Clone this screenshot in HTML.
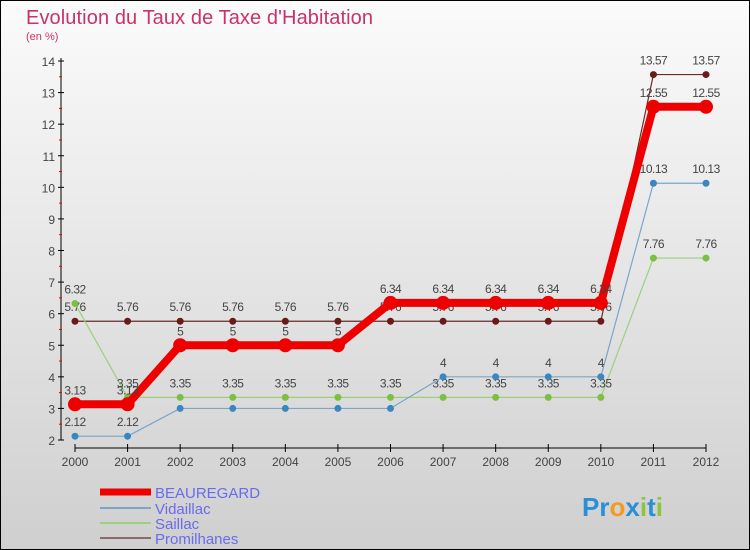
<!DOCTYPE html>
<html><head><meta charset="utf-8"><style>
body{margin:0;width:750px;height:550px;overflow:hidden}
svg{display:block;font-family:"Liberation Sans",sans-serif}
</style></head><body>
<svg id="c" width="750" height="550">
<defs><linearGradient id="bg" x1="0" y1="0" x2="0" y2="1"><stop offset="0" stop-color="#fbfbfb"/><stop offset="1" stop-color="#cfcfcf"/></linearGradient></defs>
<rect x="0.5" y="0.5" width="749" height="549" fill="url(#bg)" stroke="#000"/>
<text x="26" y="24" font-size="20" fill="#c8336b" textLength="347">Evolution du Taux de Taxe d'Habitation</text>
<text x="26" y="40" font-size="11" fill="#c8336b">(en %)</text>
<g id="axes"></g><g id="plot"></g>
<g>
<line x1="100" y1="492" x2="151" y2="492" stroke="#e00" stroke-width="7"/>
<text x="155" y="498" font-size="15" fill="#6a6aee">BEAUREGARD</text>
<line x1="100" y1="508" x2="151" y2="508" stroke="#7aa6c8" stroke-width="2"/>
<text x="155" y="514" font-size="15" fill="#6a6aee">Vidaillac</text>
<line x1="100" y1="523" x2="151" y2="523" stroke="#9bd07f" stroke-width="2"/>
<text x="155" y="529" font-size="15" fill="#6a6aee">Saillac</text>
<line x1="100" y1="538" x2="151" y2="538" stroke="#8c6a6a" stroke-width="2"/>
<text x="155" y="544" font-size="15" fill="#6a6aee">Promilhanes</text>
</g>
<g font-size="26" font-weight="bold">
<text x="582" y="516"><tspan fill="#2a8fd6">Pr</tspan><tspan fill="#f29b1f">o</tspan><tspan fill="#2a8fd6">x</tspan><tspan fill="#8cc63f">i</tspan><tspan fill="#2a8fd6">t</tspan><tspan fill="#8cc63f">i</tspan></text>
</g>
</svg>
<script>
const years=["2000","2001","2002","2003","2004","2005","2006","2007","2008","2009","2010","2011","2012"];
const yTicks=[2,3,4,5,6,7,8,9,10,11,12,13,14];
const beauregard=[3.13,3.13,5,5,5,5,6.34,6.34,6.34,6.34,6.34,12.55,12.55];
const vidaillac=[2.12,2.12,3,3,3,3,3,4,4,4,4,10.13,10.13];
const saillac=[6.32,3.35,3.35,3.35,3.35,3.35,3.35,3.35,3.35,3.35,3.35,7.76,7.76];
const promilhanes=[5.76,5.76,5.76,5.76,5.76,5.76,5.76,5.76,5.76,5.76,5.76,13.57,13.57];
const NS="http://www.w3.org/2000/svg";
const X=i=>75+i*(706-75)/12;
const Y=v=>440-(v-2)*(440-61)/12;
function mk(p,t,a){const e=document.createElementNS(NS,t);for(const k in a)e.setAttribute(k,a[k]);p.appendChild(e);return e;}
const ax=document.getElementById('axes'),pl=document.getElementById('plot');
let e=mk(ax,'line',{x1:61,y1:Y(14)-3,x2:61,y2:Y(2),stroke:'#000'});


yTicks.forEach(v=>{
 mk(ax,'line',{x1:58,y1:Y(v),x2:64,y2:Y(v),stroke:'#000'});
 if(v<14)mk(ax,'line',{x1:59,y1:Y(v+0.5),x2:62,y2:Y(v+0.5),stroke:'#e00'});
 const t=mk(ax,'text',{x:55,y:Y(v)+5,'font-size':12,'text-anchor':'end',fill:'#444'});t.textContent=v;
 
 
});
e=mk(ax,'line',{x1:X(0),y1:448,x2:X(12),y2:448,stroke:'#000'});


years.forEach((y,i)=>{
 mk(ax,'line',{x1:X(i),y1:444,x2:X(i),y2:452,stroke:'#000'});
 const t=mk(ax,'text',{x:X(i),y:466,'font-size':12,'text-anchor':'middle',fill:'#444'});t.textContent=y;
 
 
});
function series(name,d,col,dot,w,r,labels){
 const g=mk(pl,'g',{});
 
 
 mk(g,'polyline',{points:d.map((v,i)=>X(i)+','+Y(v)).join(' '),fill:'none',stroke:col,'stroke-width':w,'stroke-linejoin':'round'});
 d.forEach((v,i)=>{
  const c=mk(g,'circle',{cx:X(i),cy:Y(v),r:r,fill:dot});
  
  
  if(labels(i)){const t=mk(g,'text',{x:X(i),y:Y(v)-10,'font-size':12,'text-anchor':'middle',fill:'#444','letter-spacing':'-0.5'});t.textContent=String(v);
  
  }
 });
}
series('promilhanes',promilhanes,'#6b2a2a','#6b1a1a',1.2,3.5,()=>true);
series('saillac',saillac,'#9bd07f','#7cc043',1.2,3.5,()=>true);
series('vidaillac',vidaillac,'#7aa6c8','#3a86c0',1.2,3.5,i=>i<2||i>6);
series('beauregard',beauregard,'#ee0000','#ee0000',8,7,()=>true);
</script>
</body></html>
